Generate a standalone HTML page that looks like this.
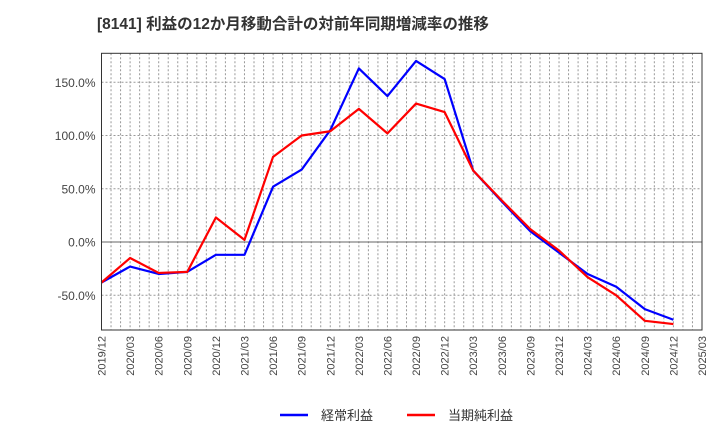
<!DOCTYPE html>
<html><head><meta charset="utf-8"><style>
body{margin:0;background:#fff;width:720px;height:440px;overflow:hidden}
svg text{font-family:"Liberation Sans","Noto Sans CJK JP",sans-serif}
</style></head><body>
<svg id="c" width="720" height="440" xmlns="http://www.w3.org/2000/svg">
<text x="97" y="29" font-size="15.5" font-weight="bold" fill="#333">[8141]  利益の12か月移動合計の対前年同期増減率の推移</text>
<g id="grid"></g><g id="series"></g><g id="axes"></g>
<g>
<line x1="280" y1="415" x2="308" y2="415" stroke="#0000ff" stroke-width="2.5"/>
<text x="321" y="420" font-size="13" fill="#333">経常利益</text>
<line x1="407" y1="415" x2="435" y2="415" stroke="#ff0000" stroke-width="2.5"/>
<text x="448" y="420" font-size="13" fill="#333">当期純利益</text>
</g>
</svg>
<script>
const xTickLabels=["2019/12","2020/03","2020/06","2020/09","2020/12","2021/03","2021/06","2021/09","2021/12","2022/03","2022/06","2022/09","2022/12","2023/03","2023/06","2023/09","2023/12","2024/03","2024/06","2024/09","2024/12","2025/03"];
const yTicks=[-50,0,50,100,150];
const keijo=[-38,-23,-30,-28,-12,-12,52,68,105,163,137,170,153,67,38,10,-10,-30,-42,-63,-73];
const junri=[-38,-15,-29,-28,23,2,80,100,104,125,102,130,122,67,39,12,-8,-33,-50,-74,-77];
const L=101.5,R=702,T=53.3,B=330,yMin=-82.6,yMax=177.2,nMonths=63;
const ns="http://www.w3.org/2000/svg";
const xm=m=>L+(R-L)*m/nMonths;
const y=v=>B-(v-yMin)/(yMax-yMin)*(B-T);
function mk(tag,attrs,parent){const e=document.createElementNS(ns,tag);for(const k in attrs)e.setAttribute(k,attrs[k]);parent.appendChild(e);return e;}
const grid=document.getElementById('grid'),ax=document.getElementById('axes'),se=document.getElementById('series');
for(let m=1;m<nMonths;m++){const l=mk('line',{x1:xm(m),x2:xm(m),y1:T,y2:B,stroke:'#999','stroke-width':1,'stroke-dasharray':'2,2'},grid);

}
yTicks.forEach(v=>{const l=mk('line',{x1:L,x2:R,y1:y(v),y2:y(v),stroke:v===0?'#666':'#999','stroke-width':1,'stroke-dasharray':v===0?'':'2,2'},grid);


const t=mk('text',{x:L-6,y:y(v)+4.5,'text-anchor':'end','font-size':12,fill:'#444'},ax);t.textContent=v.toFixed(1)+'%';

});
const fr=mk('rect',{x:L,y:T,width:R-L,height:B-T,fill:'none',stroke:'#333','stroke-width':1},ax);


xTickLabels.forEach((s,i)=>{const px=xm(i*3),py=B+6;const t=mk('text',{x:px+4,y:py,'text-anchor':'end','font-size':11,fill:'#444',transform:`rotate(-90 ${px+4} ${py})`},ax);t.textContent=s;

});
function line(d,c,name){const p=mk('polyline',{points:d.map((v,i)=>xm(i*3)+','+y(v)).join(' '),fill:'none',stroke:c,'stroke-width':2.2,'stroke-linejoin':'round'},se);

}
line(keijo,'#0000ff','series-keijo');
line(junri,'#ff0000','series-junri');
</script>
</body></html>
